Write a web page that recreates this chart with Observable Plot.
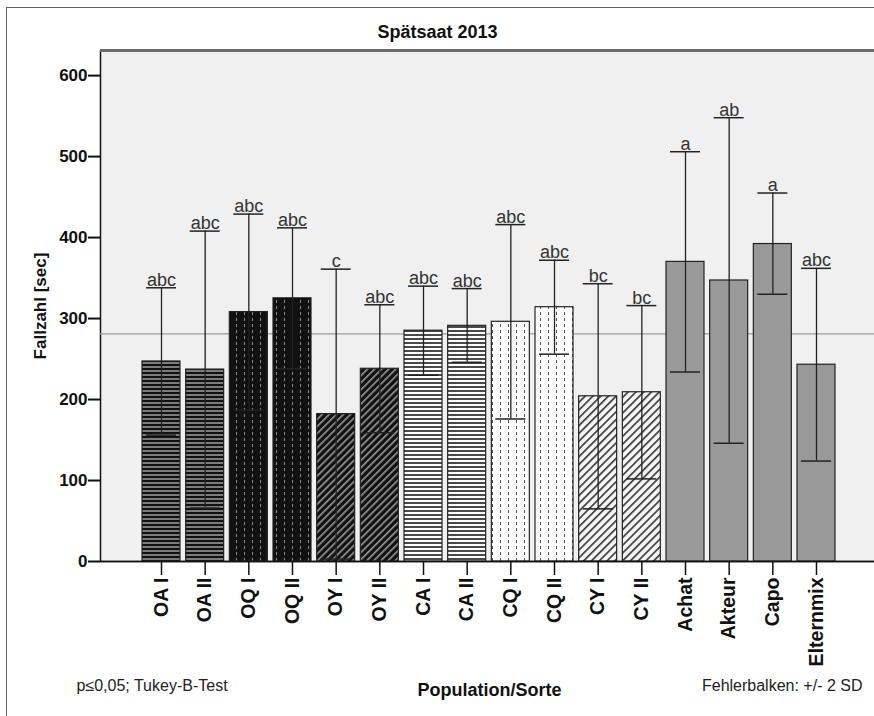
<!DOCTYPE html>
<html>
<head>
<meta charset="utf-8">
<script src="https://cdn.jsdelivr.net/npm/d3@7"></script>
<script src="https://cdn.jsdelivr.net/npm/@observablehq/plot@0.6"></script>
<style>
  html, body { margin: 0; padding: 0; background: #fff; }
  #wrap { position: relative; width: 874px; height: 716px; overflow: hidden; }
  #border { position: absolute; left: 6px; top: 7px; width: 900px; height: 800px;
            border-left: 1.5px solid #666; border-top: 1.5px solid #666; pointer-events: none; }
</style>
</head>
<body>
<div id="wrap"><div id="border"></div></div>
<script>
// ---- data ----
const categories = ["OA I","OA II","OQ I","OQ II","OY I","OY II","CA I","CA II","CQ I","CQ II","CY I","CY II","Achat","Akteur","Capo","Elternmix"];
const groups     = ["OA","OA","OQ","OQ","OY","OY","CA","CA","CQ","CQ","CY","CY","Sorte","Sorte","Sorte","Sorte"];
const means      = [247, 237, 308, 325, 182, 238, 285, 291, 296, 314, 204, 209, 370, 347, 392, 243];
const upper      = [338, 408, 429, 412, 361, 317, 340, 337, 416, 372, 343, 316, 506, 548, 455, 362];
const lower      = [156,  66, 187, 238,   3, 159, 230, 246, 176, 256,  65, 102, 234, 146, 330, 124];
const letters    = ["abc","abc","abc","abc","c","abc","abc","abc","abc","abc","bc","bc","a","ab","a","abc"];
const referenceValue = 281;
const yTicks = [0, 100, 200, 300, 400, 500, 600];

const rows = categories.map((c, i) => ({cat: c, group: groups[i], mean: means[i], upper: upper[i], lower: lower[i], letter: letters[i]}));

// ---- styles (fills by group) ----
const groupFill = {OA: "url(#pOA)", OQ: "url(#pOQ)", OY: "url(#pOY)", CA: "url(#pCA)", CQ: "url(#pCQ)", CY: "url(#pCY)", Sorte: "#999999"};

const barMarks = Object.keys(groupFill).map(g =>
  Plot.barY(rows.filter(d => d.group === g), {x: "cat", y: "mean", fill: groupFill[g], stroke: "#222", strokeWidth: 1.2})
);

const chart = Plot.plot({
  width: 874,
  height: 716,
  marginLeft: 100,
  marginRight: -4,
  marginTop: 50,
  marginBottom: 155,
  style: {fontFamily: "'Liberation Sans', Arial, sans-serif", background: "transparent"},
  x: {domain: categories, range: [100, 877], paddingInner: 0.13, paddingOuter: 0.962, round: false},
  y: {domain: [0, 631]},
  marks: [
    Plot.frame({fill: "#f0f0f0", stroke: "#111", strokeWidth: 1.5}),
    Plot.ruleY([referenceValue], {stroke: "#9a9a9a", strokeWidth: 1.2}),
    ...barMarks,
    Plot.ruleX(rows, {x: "cat", y1: "lower", y2: "upper", stroke: "#222", strokeWidth: 1.3}),
    Plot.tickY(rows, {x: "cat", y: "upper", stroke: "#222", strokeWidth: 1.5, inset: 4}),
    Plot.tickY(rows, {x: "cat", y: "lower", stroke: "#222", strokeWidth: 1.5, inset: 4}),
    Plot.text(rows, {x: "cat", y: "upper", text: "letter", lineAnchor: "bottom", dy: -2, fontSize: 18, fill: "#333"}),
    Plot.ruleY([631], {stroke: "#6a6a6a", strokeWidth: 3}),
    Plot.ruleY([0], {stroke: "#111", strokeWidth: 1.5}),
    Plot.axisY({ticks: yTicks, tickSize: 12, tickPadding: 1, fontSize: 17, fontWeight: "bold", fill: "#111", stroke: "#111", strokeWidth: 2, label: null}),
    Plot.axisX({tickSize: 14, tickPadding: 2, tickRotate: -90, fontSize: 19.5, fontWeight: "bold", fill: "#111", stroke: "#111", strokeWidth: 1.5, label: null}),
    Plot.text(["Spätsaat 2013"], {frameAnchor: "top-left", dx: 337, dy: -18, lineAnchor: "middle", textAnchor: "middle", fontSize: 18, fontWeight: "bold", fill: "#111"}),
    Plot.text(["Fallzahl [sec]"], {frameAnchor: "left", dx: -60, rotate: -90, textAnchor: "middle", fontSize: 17, fontWeight: "bold", fill: "#111"}),
    Plot.text(["Population/Sorte"], {frameAnchor: "bottom", dy: 129, lineAnchor: "middle", textAnchor: "middle", fontSize: 18, fontWeight: "bold", fill: "#111"}),
    Plot.text(["p≤0,05; Tukey-B-Test"], {frameAnchor: "bottom-left", dx: -24, dy: 124, lineAnchor: "middle", textAnchor: "start", fontSize: 16, fill: "#222"}),
    Plot.text(["Fehlerbalken: +/- 2 SD"], {frameAnchor: "bottom-left", dx: 762, dy: 124, lineAnchor: "middle", textAnchor: "end", fontSize: 16, fill: "#222"})
  ]
});

// pattern definitions for the hatched bars
d3.select(chart).insert("defs", ":first-child").html(`
  <pattern id="pOA" patternUnits="userSpaceOnUse" width="4" height="4">
    <rect width="4" height="4" fill="#111"/><rect y="2" width="4" height="2" fill="#7d7d7d"/>
  </pattern>
  <pattern id="pOQ" patternUnits="userSpaceOnUse" width="8" height="6">
    <rect width="8" height="6" fill="#111"/><rect x="4" y="0" width="1" height="3" fill="#8a8a8a"/>
  </pattern>
  <pattern id="pOY" patternUnits="userSpaceOnUse" width="5" height="5" patternTransform="rotate(45)">
    <rect width="5" height="5" fill="#111"/><rect x="0" width="1.6" height="5" fill="#9a9a9a"/>
  </pattern>
  <pattern id="pCA" patternUnits="userSpaceOnUse" width="4" height="4">
    <rect width="4" height="4" fill="#fff"/><rect y="2" width="4" height="2" fill="#4a4a4a"/>
  </pattern>
  <pattern id="pCQ" patternUnits="userSpaceOnUse" width="8" height="6">
    <rect width="8" height="6" fill="#fff"/><rect x="4" y="0" width="1" height="3" fill="#555"/>
  </pattern>
  <pattern id="pCY" patternUnits="userSpaceOnUse" width="5.5" height="5.5" patternTransform="rotate(45)">
    <rect width="5.5" height="5.5" fill="#f4f4f4"/><rect x="0" width="1.6" height="5.5" fill="#333"/>
  </pattern>
`);

document.getElementById("wrap").appendChild(chart);
chart.style.position = "absolute";
chart.style.left = "0px";
chart.style.top = "0px";
</script>
</body>
</html>
